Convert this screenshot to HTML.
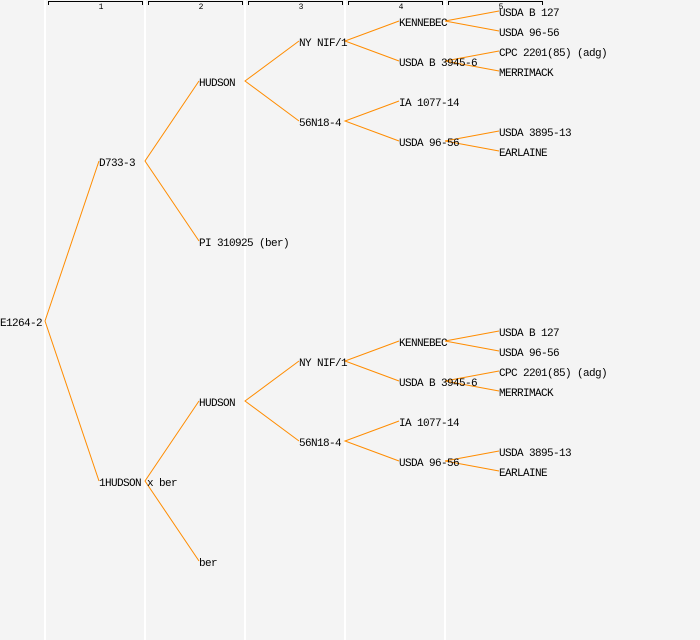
<!DOCTYPE html>
<html><head><style>
html,body{margin:0;padding:0;background:#f4f4f4}
svg{display:block}
text{font-family:"Liberation Mono","DejaVu Sans Mono",monospace;font-size:11px;letter-spacing:-0.6px;fill:#000}
text.h{font-size:8px;letter-spacing:0}
</style></head><body>
<svg width="700" height="640" viewBox="0 0 700 640">
<rect width="700" height="640" fill="#f4f4f4"/>
<g stroke="#ffffff" stroke-width="2">
<line x1="45" y1="0" x2="45" y2="640"/><line x1="145" y1="0" x2="145" y2="640"/>
<line x1="245" y1="0" x2="245" y2="640"/><line x1="345" y1="0" x2="345" y2="640"/>
<line x1="445" y1="0" x2="445" y2="640"/>
</g>
<g stroke="#000" stroke-width="1" fill="none">
<path d="M48.5 5V1.5H142.5V5"/><path d="M148.5 5V1.5H242.5V5"/><path d="M248.5 5V1.5H342.5V5"/>
<path d="M348.5 5V1.5H442.5V5"/><path d="M448.5 5V1.5H542.5V5"/>
</g>
<g text-anchor="middle">
<text class="h" x="101" y="9">1</text><text class="h" x="201" y="9">2</text><text class="h" x="301" y="9">3</text>
<text class="h" x="401" y="9">4</text><text class="h" x="501" y="9">5</text>
</g>
<g stroke="#ff8c00" stroke-width="1" fill="none">
<path d="M99 161L45 321L99 481"/>
<path d="M199 81L145 161L199 241"/>
<path d="M299 41L245 81L299 121"/>
<path d="M399 21L345 41L399 61"/>
<path d="M399 101L345 121L399 141"/>
<path d="M499 11L445 21L499 31"/>
<path d="M499 51L445 61L499 71"/>
<path d="M499 131L445 141L499 151"/>
<path d="M199 401L145 481L199 561"/>
<path d="M299 361L245 401L299 441"/>
<path d="M399 341L345 361L399 381"/>
<path d="M399 421L345 441L399 461"/>
<path d="M499 331L445 341L499 351"/>
<path d="M499 371L445 381L499 391"/>
<path d="M499 451L445 461L499 471"/>
</g>
<g>
<text x="0" y="326">E1264-2</text>
<text x="99" y="166">D733-3</text>
<text x="199" y="86">HUDSON</text>
<text x="199" y="246">PI 310925 (ber)</text>
<text x="299" y="46">NY NIF/1</text>
<text x="299" y="126">56N18-4</text>
<text x="399" y="26">KENNEBEC</text>
<text x="399" y="66">USDA B 3945-6</text>
<text x="399" y="106">IA 1077-14</text>
<text x="399" y="146">USDA 96-56</text>
<text x="499" y="16">USDA B 127</text>
<text x="499" y="36">USDA 96-56</text>
<text x="499" y="56">CPC 2201(85) (adg)</text>
<text x="499" y="76">MERRIMACK</text>
<text x="499" y="136">USDA 3895-13</text>
<text x="499" y="156">EARLAINE</text>
<text x="99" y="486">1HUDSON x ber</text>
<text x="199" y="406">HUDSON</text>
<text x="199" y="566">ber</text>
<text x="299" y="366">NY NIF/1</text>
<text x="299" y="446">56N18-4</text>
<text x="399" y="346">KENNEBEC</text>
<text x="399" y="386">USDA B 3945-6</text>
<text x="399" y="426">IA 1077-14</text>
<text x="399" y="466">USDA 96-56</text>
<text x="499" y="336">USDA B 127</text>
<text x="499" y="356">USDA 96-56</text>
<text x="499" y="376">CPC 2201(85) (adg)</text>
<text x="499" y="396">MERRIMACK</text>
<text x="499" y="456">USDA 3895-13</text>
<text x="499" y="476">EARLAINE</text>
</g>
</svg>
</body></html>
